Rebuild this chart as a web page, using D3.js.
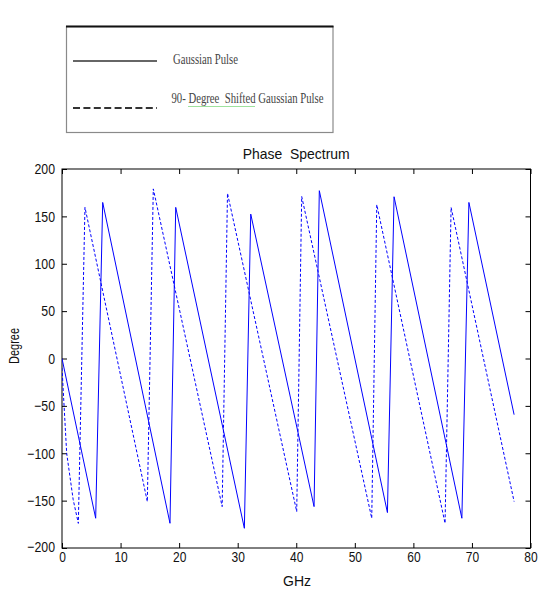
<!DOCTYPE html>
<html>
<head>
<meta charset="utf-8">
<script src="https://cdn.jsdelivr.net/npm/d3@7"></script>
<style>
  html, body { margin: 0; padding: 0; background: #fff; }
  svg { display: block; }
  text { white-space: pre; }
</style>
</head>
<body>
<svg id="chart" width="540" height="591"></svg>
<script>
// ---- data ----
const xTicks = [0, 10, 20, 30, 40, 50, 60, 70, 80];
const yTicks = [-200, -150, -100, -50, 0, 50, 100, 150, 200];

const gaussFreq  = [0, 5.75, 6.95, 18.44, 19.42, 31.14, 32.23, 43.04, 43.94, 55.57, 56.70, 68.28, 69.48, 77.2];
const gaussPhase = [0, -168.6, 164.7, -173.9, 159.5, -179.2, 152.4, -156.3, 177.1, -162.6, 170.7, -168.6, 164.7, -59.3];

const shiftFreq  = [0, 0.8, 1.91, 2.79, 3.92, 14.57, 15.59, 27.35, 28.26, 40.08, 40.93, 52.89, 53.75, 65.41, 66.44, 77.2];
const shiftPhase = [-10, -100, -149, -174, 159.5, -151, 179, -156.3, 174.3, -161.6, 171, -168.6, 162.3, -173.9, 159.5, -151];

const legendLabels = ["Gaussian Pulse", "90- Degree  Shifted Gaussian Pulse"];
const titleText = "Phase  Spectrum";
const xLabel = "GHz";
const yLabel = "Degree";

// ---- layout ----
const svg = d3.select("#chart");
const L = 62, R = 530.5, T = 169, B = 548;

const x = d3.scaleLinear().domain([0, 80]).range([L, R]);
const y = d3.scaleLinear().domain([-200, 200]).range([B, T]);

const fontSans = "'Liberation Sans', Arial, sans-serif";
const fontSerif = "'Liberation Serif', 'Times New Roman', serif";

function squeeze(sel, factor) {
  sel.each(function() {
    const n = this.getComputedTextLength();
    if (n > 0) {
      d3.select(this).attr("textLength", n * factor).attr("lengthAdjust", "spacingAndGlyphs");
    }
  });
}

// ---- legend ----
const lg = svg.append("g");
lg.append("rect").attr("x", 66.5).attr("y", 26.5).attr("width", 266.5).attr("height", 106)
  .attr("fill", "#fff").attr("stroke", "#8a8a8a").attr("stroke-width", 1.2);
lg.append("line").attr("x1", 66).attr("x2", 333.5).attr("y1", 26.5).attr("y2", 26.5)
  .attr("stroke", "#111").attr("stroke-width", 2);
lg.append("line").attr("x1", 73).attr("x2", 157).attr("y1", 61).attr("y2", 61)
  .attr("stroke", "#333").attr("stroke-width", 1.5);
lg.append("line").attr("x1", 73).attr("x2", 157).attr("y1", 108).attr("y2", 108)
  .attr("stroke", "#333").attr("stroke-width", 2).attr("stroke-dasharray", "7,3.4");
// spell-check squiggle under "Degree  Shifted"
lg.append("line").attr("x1", 188).attr("x2", 255).attr("y1", 106.5).attr("y2", 106.5)
  .attr("stroke", "#9ee29e").attr("stroke-width", 1);
lg.append("text").attr("x", 173).attr("y", 64).text(legendLabels[0])
  .attr("font-family", fontSerif).attr("font-size", 15.5).attr("fill", "#444")
  .attr("textLength", 65).attr("lengthAdjust", "spacingAndGlyphs");
lg.append("text").attr("x", 171.5).attr("y", 103).text(legendLabels[1])
  .attr("font-family", fontSerif).attr("font-size", 15.5).attr("fill", "#444")
  .attr("textLength", 152).attr("lengthAdjust", "spacingAndGlyphs");

// ---- axes ----
const tickLen = 5;
const gx = svg.append("g").attr("transform", `translate(0,${B})`)
  .call(d3.axisBottom(x).tickValues(xTicks).tickSizeInner(-tickLen).tickSizeOuter(0).tickPadding(3).tickFormat(d3.format("d")));
const gy = svg.append("g").attr("transform", `translate(${L},0)`)
  .call(d3.axisLeft(y).tickValues(yTicks).tickSizeInner(-tickLen).tickSizeOuter(0).tickPadding(7).tickFormat(d3.format("d")));
const gt = svg.append("g").attr("transform", `translate(0,${T})`)
  .call(d3.axisTop(x).tickValues(xTicks).tickSizeInner(-tickLen).tickSizeOuter(0).tickFormat(""));
const gr = svg.append("g").attr("transform", `translate(${R},0)`)
  .call(d3.axisRight(y).tickValues(yTicks).tickSizeInner(-tickLen).tickSizeOuter(0).tickFormat(""));

[gx, gy, gt, gr].forEach(g => {
  g.select(".domain").remove();
  g.selectAll(".tick line").attr("stroke", "#000");
  g.selectAll("text").attr("font-family", fontSans).attr("font-size", 15).attr("fill", "#111");
});
squeeze(gx.selectAll(".tick text"), 0.8);
squeeze(gy.selectAll(".tick text"), 0.82);
gx.selectAll(".tick text").attr("dy", "0.72em");
// keep the bottom y label clear of the x origin label
gy.selectAll(".tick text").filter(d => d === -200).attr("dy", "0.2em");

// frame
svg.append("rect").attr("x", L).attr("y", T).attr("width", R - L).attr("height", B - T)
  .attr("fill", "none").attr("stroke", "#000").attr("stroke-width", 1);

// ---- lines ----
const line = d3.line().x(d => x(d[0])).y(d => y(d[1]));
svg.append("clipPath").attr("id", "plotclip").append("rect")
  .attr("x", L).attr("y", T).attr("width", R - L).attr("height", B - T);

const plot = svg.append("g").attr("clip-path", "url(#plotclip)");
plot.append("path")
  .datum(shiftFreq.map((f, i) => [f, shiftPhase[i]]))
  .attr("d", line).attr("fill", "none").attr("stroke", "#0000ff")
  .attr("stroke-width", 1).attr("stroke-dasharray", "3,2");
plot.append("path")
  .datum(gaussFreq.map((f, i) => [f, gaussPhase[i]]))
  .attr("d", line).attr("fill", "none").attr("stroke", "#0000ff")
  .attr("stroke-width", 1);

// ---- titles ----
svg.append("text").attr("x", (L + R) / 2).attr("y", 158.5).attr("text-anchor", "middle")
  .attr("font-family", fontSans).attr("font-size", 14.5).attr("fill", "#111")
  .attr("textLength", 107).attr("lengthAdjust", "spacingAndGlyphs").text(titleText);
svg.append("text").attr("x", 297).attr("y", 586).attr("text-anchor", "middle")
  .attr("font-family", fontSans).attr("font-size", 15).attr("fill", "#111")
  .attr("textLength", 28).attr("lengthAdjust", "spacingAndGlyphs").text(xLabel);
svg.append("text").attr("transform", "translate(19,346) rotate(-90)").attr("text-anchor", "middle")
  .attr("font-family", fontSans).attr("font-size", 14).attr("fill", "#111")
  .attr("textLength", 36).attr("lengthAdjust", "spacingAndGlyphs").text(yLabel);
</script>
</body>
</html>
